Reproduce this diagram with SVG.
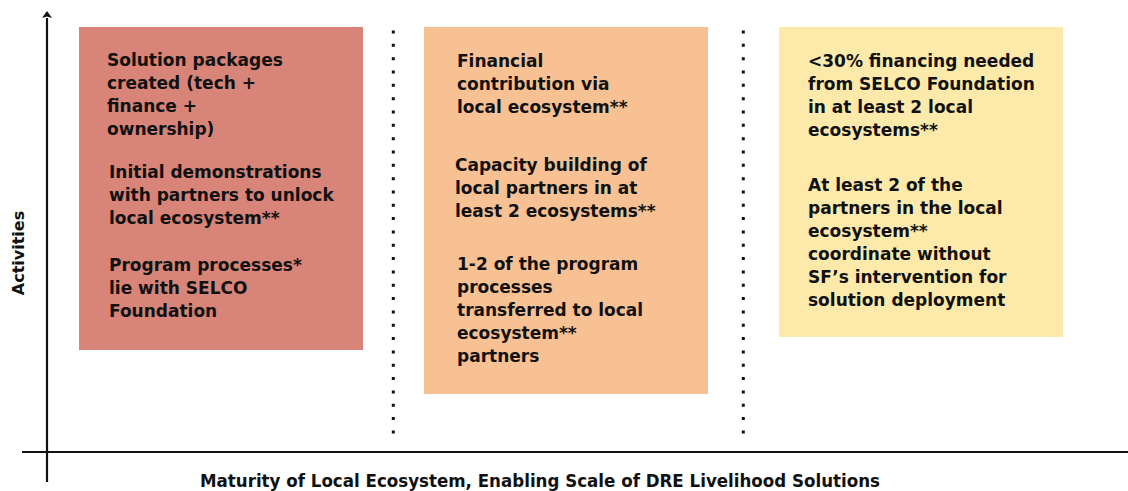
<svg xmlns="http://www.w3.org/2000/svg" width="1128" height="491" viewBox="0 0 1128 491">
<defs>
<style>
.t{font-family:"DejaVu Sans","Liberation Sans",sans-serif;font-weight:bold;font-size:17px;fill:#111;}
.ax{stroke:#111;stroke-width:2.2;fill:none;}
.dot{stroke:#111;stroke-width:3;stroke-dasharray:3 10.33;fill:none;}
</style>
</defs>
<rect width="1128" height="491" fill="#fff"/>
<g id="connectors">
<line class="ax" x1="47" y1="18" x2="47" y2="482"/>
<polygon points="47,11 42,18 47,16.5 52,18" fill="#111"/>
<line class="ax" x1="22" y1="452" x2="1128" y2="452"/>
<line class="dot" x1="393.3" y1="30.5" x2="393.3" y2="434"/>
<line class="dot" x1="743.3" y1="30.5" x2="743.3" y2="434"/>
</g>
<g id="box1">
<rect x="79" y="27" width="284" height="323" fill="#D88478"/>
<text class="t"><tspan x="107" y="66">Solution packages</tspan><tspan x="107" y="89">created (tech +</tspan><tspan x="107" y="112">finance +</tspan><tspan x="107" y="135">ownership)</tspan></text>
<text class="t"><tspan x="109" y="178">Initial demonstrations</tspan><tspan x="109" y="201">with partners to unlock</tspan><tspan x="109" y="224">local ecosystem**</tspan></text>
<text class="t"><tspan x="109" y="271">Program processes*</tspan><tspan x="109" y="294">lie with SELCO</tspan><tspan x="109" y="317">Foundation</tspan></text>
</g>
<g id="box2">
<rect x="424" y="27" width="284" height="367" fill="#F8C193"/>
<text class="t"><tspan x="457" y="67">Financial</tspan><tspan x="457" y="90">contribution via</tspan><tspan x="457" y="113">local ecosystem**</tspan></text>
<text class="t"><tspan x="455" y="171">Capacity building of</tspan><tspan x="455" y="194">local partners in at</tspan><tspan x="455" y="217">least 2 ecosystems**</tspan></text>
<text class="t"><tspan x="457" y="270">1-2 of the program</tspan><tspan x="457" y="293">processes</tspan><tspan x="457" y="316">transferred to local</tspan><tspan x="457" y="339">ecosystem**</tspan><tspan x="457" y="362">partners</tspan></text>
</g>
<g id="box3">
<rect x="779" y="27" width="284" height="310" fill="#FDEAAA"/>
<text class="t"><tspan x="808" y="67">&lt;30% financing needed</tspan><tspan x="808" y="90">from SELCO Foundation</tspan><tspan x="808" y="113">in at least 2 local</tspan><tspan x="808" y="136">ecosystems**</tspan></text>
<text class="t"><tspan x="808" y="191">At least 2 of the</tspan><tspan x="808" y="214">partners in the local</tspan><tspan x="808" y="237">ecosystem**</tspan><tspan x="808" y="260">coordinate without</tspan><tspan x="808" y="283">SF’s intervention for</tspan><tspan x="808" y="306">solution deployment</tspan></text>
</g>
<g id="y-label">
<text class="t" transform="translate(24,253) rotate(-90)" text-anchor="middle" style="font-size:16px">Activities</text>
</g>
<g id="x-label">
<text class="t" x="540" y="487" text-anchor="middle" textLength="680" lengthAdjust="spacingAndGlyphs">Maturity of Local Ecosystem, Enabling Scale of DRE Livelihood Solutions</text>
</g>
</svg>
